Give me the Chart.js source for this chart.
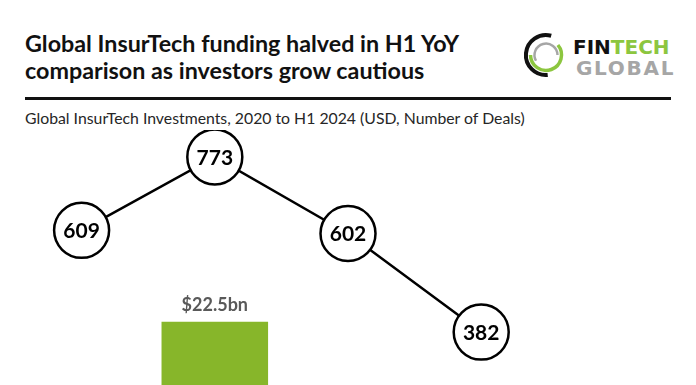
<!DOCTYPE html>
<html>
<head>
<meta charset="utf-8">
<script src="https://cdn.jsdelivr.net/npm/chart.js@4.4.1/dist/chart.umd.min.js"></script>
<style>
  html, body { margin: 0; padding: 0; background: #fff; }
  body { width: 696px; height: 385px; overflow: hidden; position: relative; font-family: Lato, sans-serif; }
  .title { position: absolute; left: 25px; top: 30px; font-weight: 700; font-size: 23.3px; line-height: 27px; color: #111; white-space: nowrap; }
  .rule { position: absolute; left: 25px; top: 97px; width: 646px; height: 3px; background: #111; }
  .subtitle { position: absolute; left: 25px; top: 109px; font-size: 15.8px; line-height: 18px; color: #262626; white-space: nowrap; }
  .logo-ring { position: absolute; left: 521px; top: 30px; }
  .logo-text { position: absolute; font-family: "DejaVu Sans", sans-serif; font-size: 20px; line-height: 20px; white-space: nowrap; }
  .fin { left: 573px; top: 37px; font-weight: 700; color: #111; }
  .fin span { color: #8cc63f; }
  .glob { left: 576px; top: 58px; color: #a6a6a6; letter-spacing: 1.7px; font-weight: 700; }
  #wrap { position: absolute; left: 0; top: 130px; width: 696px; height: 470px; }
</style>
</head>
<body>
<div class="title">Global InsurTech funding halved in H1 YoY<br>comparison as investors grow cautious</div>
<svg class="logo-ring" width="50" height="50" viewBox="0 0 50 50">
  <path d="M 30.2 5.7 A 20 20 0 1 0 26.7 44.9" fill="none" stroke="#111" stroke-width="4"/>
  <path d="M 9.5 25 A 15.5 15.5 0 1 0 36.9 15.0" fill="none" stroke="#8cc63f" stroke-width="3.5"/>
  <path d="M 15.0 30.75 A 11.5 11.5 0 1 1 36.5 25" fill="none" stroke="#a6a6a6" stroke-width="2.5"/>
</svg>
<div class="logo-text fin">FIN<span>TECH</span></div>
<div class="logo-text glob">GLOBAL</div>
<div class="rule"></div>
<div class="subtitle">Global InsurTech Investments, 2020 to H1 2024 (USD, Number of Deals)</div>
<div id="wrap"><canvas id="chart" width="696" height="470"></canvas></div>
<script>
// Datos (solo la barra de 2021 queda dentro del recorte)
const years = ['2020', '2021', '2022', '2023', 'H1 2024'];
const funding = [10.3, 22.5, 9.6, 6.7, 2.1];   // USD bn
const deals = [609, 773, 602, 382, null];

// Etiquetas: importes sobre las barras y número de deals dentro de los círculos
const labelPlugin = {
    id: 'labels',
    afterDatasetsDraw(chart) {
        const ctx = chart.ctx;
        ctx.save();
        ctx.textAlign = 'center';
        ctx.textBaseline = 'middle';

        const bars = chart.getDatasetMeta(1);
        ctx.font = 'bold 18px Lato';
        ctx.fillStyle = '#595959';
        bars.data.forEach((bar, i) => {
            ctx.fillText('$' + funding[i] + 'bn', bar.x, bar.y - 17);
        });

        const pts = chart.getDatasetMeta(0);
        ctx.font = 'bold 21px Lato';
        ctx.fillStyle = '#000';
        pts.data.forEach((p, i) => {
            if (deals[i] == null) return;
            ctx.fillText(deals[i], p.x, p.y + 1);
        });
        ctx.restore();
    }
};

new Chart(document.getElementById('chart').getContext('2d'), {
    data: {
        labels: years,
        datasets: [{
            type: 'line',
            data: deals,
            yAxisID: 'y1',
            order: 0,
            borderColor: '#000',
            borderWidth: 2.5,
            tension: 0,
            pointRadius: 27.5,
            pointBackgroundColor: '#fff',
            pointBorderColor: '#000',
            pointBorderWidth: 2.5,
            clip: false
        }, {
            type: 'bar',
            data: funding,
            yAxisID: 'y',
            order: 1,
            backgroundColor: '#87b62a',
            categoryPercentage: 1,
            barPercentage: 0.8
        }]
    },
    options: {
        responsive: false,
        animation: false,
        layout: { autoPadding: false, padding: { left: 15, right: 15, top: 0, bottom: 0 } },
        plugins: { legend: { display: false }, tooltip: { enabled: false } },
        scales: {
            x: { display: false },
            y: { display: false, min: 0, max: 38 },
            y1: { display: false, min: -216, max: 833 }
        }
    },
    plugins: [labelPlugin]
});
</script>
</body>
</html>
